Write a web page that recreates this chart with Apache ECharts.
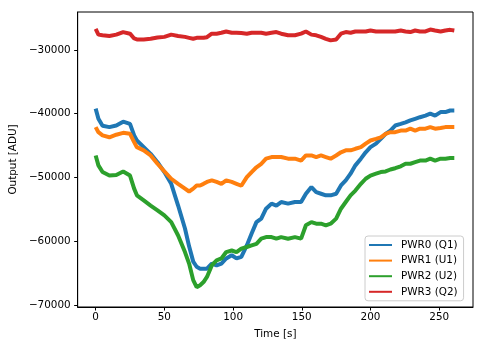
<!DOCTYPE html>
<html>
<head>
<meta charset="utf-8">
<script src="https://cdn.jsdelivr.net/npm/echarts@6/dist/echarts.min.js"></script>
<style>
  html, body { margin: 0; padding: 0; background: #fff; }
  #chart { width: 483px; height: 347px; }
</style>
</head>
<body>
<div id="chart"></div>
<script>
// Sample times [s]
const time = [0, 2, 5, 10, 15, 20, 25, 28, 30, 35, 40, 45, 50, 55, 60, 65, 68, 71, 73.5, 76, 78.5, 81, 84.5, 88, 91.5, 95, 99, 102.5, 106, 110, 113.5, 117, 120.5, 124, 128, 131.5, 135, 140, 145, 149.5, 153, 157, 160.5, 164, 167.5, 171, 175, 178.5, 182, 185.5, 189, 193, 196.5, 200, 204, 207.5, 211, 214.5, 218, 222, 225.5, 229, 232.5, 236, 240, 243.5, 247, 251, 254.5, 258, 261];

// Output [ADU] per channel
const pwr0 = [-39200, -40800, -41900, -42100, -41850, -41250, -41600, -43400, -44200, -45250, -46300, -47600, -49150, -51000, -54400, -58000, -60800, -63200, -64000, -64300, -64300, -64300, -63500, -63800, -63500, -62700, -62200, -62700, -62450, -60650, -58800, -57000, -56450, -54900, -54100, -54400, -53850, -54100, -53850, -53850, -52550, -51500, -52300, -52550, -52800, -52800, -52550, -51250, -50450, -49400, -48100, -47050, -46050, -45250, -44700, -43950, -43150, -42650, -41850, -41600, -41350, -41050, -40800, -40550, -40300, -40000, -40300, -39750, -39750, -39500, -39500];
const pwr1 = [-42100, -42900, -43400, -43700, -43300, -43000, -43150, -44450, -45250, -45750, -46550, -47850, -49050, -50200, -51000, -51750, -52200, -51750, -51250, -51250, -51000, -50700, -50450, -50700, -51000, -50450, -50700, -51000, -51300, -49950, -49150, -48400, -47850, -47050, -46800, -46800, -46800, -47050, -47050, -47350, -46550, -46550, -46800, -46550, -46800, -47050, -46550, -46050, -45750, -45750, -45500, -45250, -44700, -44200, -43950, -43700, -43150, -42900, -42900, -42650, -42650, -42350, -42650, -42350, -42350, -42100, -42350, -42250, -42100, -42100, -42100];
const pwr2 = [-46550, -48100, -49150, -49700, -49600, -49050, -49700, -51750, -52800, -53600, -54400, -55150, -55950, -57000, -59100, -61700, -63500, -66100, -67200, -66900, -66400, -65600, -63800, -63000, -62700, -61700, -61450, -61700, -61150, -60900, -60650, -60400, -59600, -59350, -59350, -59600, -59350, -59600, -59350, -59600, -57500, -57000, -57250, -57250, -57500, -57250, -56450, -54900, -53850, -52800, -52050, -51000, -50200, -49700, -49400, -49150, -49050, -48750, -48550, -48250, -47850, -47850, -47600, -47350, -47350, -47050, -47350, -47050, -47050, -46950, -46950];
const pwr3 = [-26700, -27600, -27700, -27800, -27600, -27200, -27450, -28200, -28350, -28350, -28250, -28050, -27950, -27600, -27800, -27950, -28100, -28250, -28100, -28100, -28100, -28000, -27450, -27450, -27300, -27100, -27300, -27300, -27350, -27450, -27300, -27300, -27300, -27450, -27300, -27200, -27450, -27700, -27700, -27450, -27100, -27600, -27700, -27950, -28250, -28500, -28350, -27450, -27200, -27300, -27100, -27100, -27100, -26950, -27100, -27100, -27100, -27100, -27100, -26950, -27100, -27200, -26950, -27100, -27100, -26800, -26950, -27100, -26950, -26850, -26950];

const seriesNames = ['PWR0 (Q1)', 'PWR1 (U1)', 'PWR2 (U2)', 'PWR3 (Q2)'];
const seriesValues = [pwr0, pwr1, pwr2, pwr3];
const colors = ['#1f77b4', '#ff7f0e', '#2ca02c', '#d62728'];

const xTicks = [0, 50, 100, 150, 200, 250];
const yTicks = [-70000, -60000, -50000, -40000, -30000];

const FONT = 'DejaVu Sans';
const minusSign = v => String(v).replace('-', '\u2212');

const chart = echarts.init(document.getElementById('chart'), null, { renderer: 'canvas' });

chart.setOption({
  animation: false,
  backgroundColor: '#fff',
  color: colors,
  grid: {
    left: 75, right: 10, top: 12, bottom: 40,
    show: true, borderColor: '#000', borderWidth: 1, backgroundColor: 'transparent'
  },
  xAxis: {
    type: 'value',
    min: -13.1, max: 274.6,
    name: 'Time [s]',
    nameLocation: 'middle',
    nameGap: 22,
    nameTextStyle: { fontFamily: FONT, fontSize: 10.4, color: '#000' },
    axisLine: { show: true, onZero: false, lineStyle: { color: '#000', width: 1 } },
    axisTick: { show: true, length: 3.5, inside: false, customValues: xTicks, lineStyle: { color: '#000', width: 1 } },
    axisLabel: { customValues: xTicks, margin: 5, fontFamily: FONT, fontSize: 10.4, color: '#000', formatter: minusSign },
    splitLine: { show: false }
  },
  yAxis: {
    type: 'value',
    min: -70313, max: -24050,
    name: 'Output [ADU]',
    nameLocation: 'middle',
    nameGap: 57,
    nameRotate: 90,
    nameTextStyle: { fontFamily: FONT, fontSize: 10.4, color: '#000' },
    axisLine: { show: true, onZero: false, lineStyle: { color: '#000', width: 1 } },
    axisTick: { show: true, length: 3.5, inside: false, customValues: yTicks, lineStyle: { color: '#000', width: 1 } },
    axisLabel: { customValues: yTicks, margin: 7, fontFamily: FONT, fontSize: 10.4, color: '#000', formatter: minusSign },
    splitLine: { show: false }
  },
  legend: {
    orient: 'vertical',
    left: 365, top: 236,
    padding: [3, 6, 3, 4],
    itemWidth: 23, itemHeight: 2,
    itemGap: 3.6,
    icon: 'rect',
    backgroundColor: 'rgba(255,255,255,0.8)',
    borderColor: '#cccccc', borderWidth: 1, borderRadius: 3,
    textStyle: { fontFamily: FONT, fontSize: 10.4, color: '#000', lineHeight: 12, padding: [0, 0, 0, 4] },
    data: seriesNames
  },
  series: seriesNames.map((name, i) => ({
    name: name,
    type: 'line',
    showSymbol: false,
    symbol: 'none',
    lineStyle: { width: 4, color: colors[i] },
    itemStyle: { color: colors[i] },
    data: time.map((t, k) => [t, seriesValues[i][k]])
  }))
});
</script>
</body>
</html>
